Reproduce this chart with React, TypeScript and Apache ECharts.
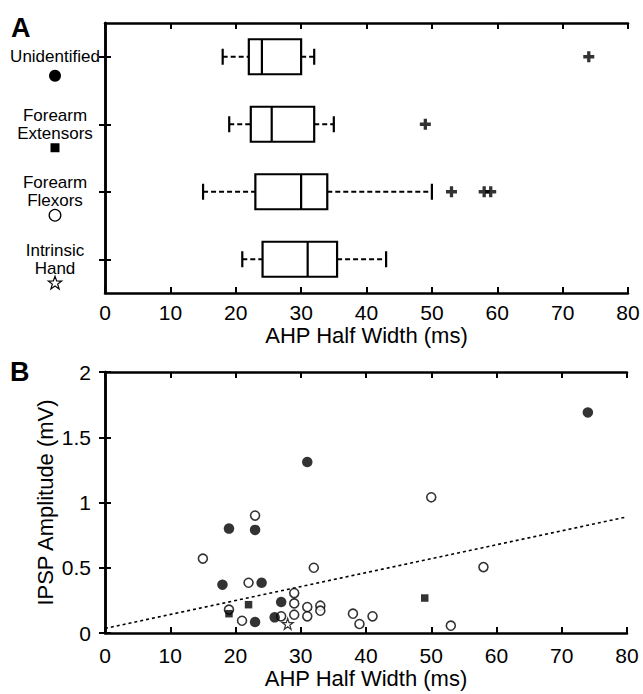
import React, { useEffect, useRef } from "react";
import * as echarts from "echarts";

// ---- Panel A: box plot data (AHP half width, ms) ----
const groups = ["Unidentified", "Forearm Extensors", "Forearm Flexors", "Intrinsic Hand"];
const groupMarkers = ["filledCircle", "filledSquare", "openCircle", "openStar"];
const whiskerLow = [18, 19, 15, 21];
const q1 = [22, 22.3, 23, 24.1];
const median = [24, 25.5, 30, 31];
const q3 = [30, 32, 34, 35.5];
const whiskerHigh = [32, 35, 50, 43];
const outlierGroup = [0, 1, 2, 2, 2];
const outlierValue = [74, 49, 53, 58, 59];

// ---- Panel B: scatter data ----
const unidentifiedX = [31, 19, 23, 18, 24, 27, 26, 23, 74];
const unidentifiedY = [1.31, 0.8, 0.79, 0.37, 0.385, 0.237, 0.12, 0.084, 1.69];
const extensorX = [19, 22, 49];
const extensorY = [0.148, 0.217, 0.268];
const flexorX = [23, 15, 32, 22, 29, 29, 29, 27, 31, 31, 33, 33, 19, 21, 38, 39, 41, 50, 58, 53];
const flexorY = [0.9, 0.57, 0.5, 0.385, 0.306, 0.227, 0.14, 0.128, 0.199, 0.128, 0.209, 0.171, 0.179, 0.094, 0.148, 0.069, 0.128, 1.04, 0.505, 0.056];
const handX = [28];
const handY = [0.07];
const trendX = [0, 80];
const trendY = [0.035, 0.89];

const xTicks = { min: 0, max: 80, interval: 10 };
const yTicks = { min: 0, max: 2, interval: 0.5 };

const FONT = "Liberation Sans, Arial, sans-serif";
const PLUS = "path://M3.5,0H6.5V3.5H10V6.5H6.5V10H3.5V6.5H0V3.5H3.5Z";
const STAR_PTS = (cx: number, cy: number, r: number) => {
  const pts: number[][] = [];
  for (let k = 0; k < 10; k++) {
    const a = -Math.PI / 2 + (k * Math.PI) / 5;
    const rr = k % 2 === 0 ? r : r * 0.4;
    pts.push([cx + rr * Math.cos(a), cy + rr * Math.sin(a)]);
  }
  return pts;
};
const STAR = "path://M50,0L61.8,35.3L99,35.3L68.9,57.3L80.4,92.7L50,70.8L19.6,92.7L31.1,57.3L1,35.3L38.2,35.3Z";

const axisLineStyle = { show: true, lineStyle: { color: "#000", width: 2.5 } };
const tickInside = { show: true, inside: true, length: 6, lineStyle: { color: "#000", width: 2 } };

export default function App() {
  const ref = useRef<HTMLDivElement>(null);
  useEffect(() => {
    if (!ref.current) return;
    const chart = echarts.init(ref.current, null, { renderer: "svg" });

    const xCommon = (gridIndex: number, position: string, labels: boolean, margin: number) => ({
      type: "value",
      gridIndex,
      position,
      ...xTicks,
      axisLine: { ...axisLineStyle, onZero: false },
      axisTick: tickInside,
      splitLine: { show: false },
      axisLabel: { show: labels, color: "#000", fontSize: 21, fontFamily: FONT, margin },
    });

    const option: any = {
      animation: false,
      backgroundColor: "#fff",
      grid: [
        { left: 105, right: 15, top: 23, height: 270 },
        { left: 105, right: 16, top: 372, height: 261 },
      ],
      xAxis: [
        {
          ...xCommon(0, "bottom", true, 9),
          name: "AHP Half Width (ms)",
          nameLocation: "middle",
          nameGap: 31,
          nameTextStyle: { color: "#000", fontSize: 22, fontFamily: FONT },
        },
        xCommon(0, "top", false, 9),
        {
          ...xCommon(1, "bottom", true, 12),
          name: "AHP Half Width (ms)",
          nameLocation: "middle",
          nameGap: 34,
          nameTextStyle: { color: "#000", fontSize: 22, fontFamily: FONT },
        },
        xCommon(1, "top", false, 12),
      ],
      yAxis: [
        {
          type: "category",
          gridIndex: 0,
          data: groups,
          inverse: true,
          position: "left",
          axisLine: axisLineStyle,
          axisTick: { ...tickInside, alignWithLabel: true },
          splitLine: { show: false },
          axisLabel: {
            align: "center",
            margin: 50,
            color: "#000",
            fontSize: 17,
            fontFamily: FONT,
            lineHeight: 18,
            formatter: (v: string) => v.split(" ").join("\n"),
          },
        },
        {
          type: "category",
          gridIndex: 0,
          data: groups,
          inverse: true,
          position: "right",
          axisLine: axisLineStyle,
          axisTick: { ...tickInside, alignWithLabel: true },
          axisLabel: { show: false },
          splitLine: { show: false },
        },
        {
          type: "value",
          gridIndex: 1,
          position: "left",
          ...yTicks,
          axisLine: axisLineStyle,
          axisTick: tickInside,
          splitLine: { show: false },
          axisLabel: { color: "#000", fontSize: 21, fontFamily: FONT, margin: 14 },
          name: "IPSP Amplitude (mV)",
          nameLocation: "middle",
          nameMoveOverlap: false,
          nameGap: 49,
          nameTextStyle: { color: "#000", fontSize: 22, fontFamily: FONT },
        },
        {
          type: "value",
          gridIndex: 1,
          position: "right",
          ...yTicks,
          axisLine: axisLineStyle,
          axisTick: tickInside,
          splitLine: { show: false },
          axisLabel: { show: false },
        },
      ],
      series: [
        {
          type: "custom",
          xAxisIndex: 0,
          yAxisIndex: 0,
          encode: { x: [1, 2, 3, 4, 5], y: 0 },
          data: groups.map((_, i) => [i, whiskerLow[i], q1[i], median[i], q3[i], whiskerHigh[i]]),
          renderItem: (params: any, api: any) => {
            const ci = api.value(0);
            const px = (v: number) => api.coord([v, ci]);
            const cy = px(api.value(3))[1];
            const xl = px(api.value(1))[0];
            const xq1 = px(api.value(2))[0];
            const xm = px(api.value(3))[0];
            const xq3 = px(api.value(4))[0];
            const xh = px(api.value(5))[0];
            const hb = 17.5;
            const hc = 8;
            const solid = { stroke: "#000", lineWidth: 2.2, fill: null };
            const dashed = { stroke: "#000", lineWidth: 2.2, lineDash: [5, 3] };
            return {
              type: "group",
              children: [
                { type: "line", shape: { x1: xl, y1: cy, x2: xq1, y2: cy }, style: dashed },
                { type: "line", shape: { x1: xq3, y1: cy, x2: xh, y2: cy }, style: dashed },
                { type: "line", shape: { x1: xl, y1: cy - hc, x2: xl, y2: cy + hc }, style: solid },
                { type: "line", shape: { x1: xh, y1: cy - hc, x2: xh, y2: cy + hc }, style: solid },
                { type: "rect", shape: { x: xq1, y: cy - hb, width: xq3 - xq1, height: 2 * hb }, style: { stroke: "#000", lineWidth: 2.2, fill: "#fff" } },
                { type: "line", shape: { x1: xm, y1: cy - hb, x2: xm, y2: cy + hb }, style: solid },
              ],
            };
          },
        },
        {
          type: "scatter",
          xAxisIndex: 0,
          yAxisIndex: 0,
          symbol: PLUS,
          symbolSize: 11,
          itemStyle: { color: "#000" },
          data: outlierValue.map((v, i) => [v, outlierGroup[i]]),
        },
        {
          type: "line",
          xAxisIndex: 2,
          yAxisIndex: 2,
          showSymbol: false,
          symbol: "none",
          lineStyle: { color: "#000", width: 1.6, type: [3, 3] },
          data: trendX.map((x, i) => [x, trendY[i]]),
          z: 1,
        },
        {
          type: "scatter",
          xAxisIndex: 2,
          yAxisIndex: 2,
          symbol: "circle",
          symbolSize: 9,
          itemStyle: { color: "#fff", borderColor: "#000", borderWidth: 1.6 },
          data: flexorX.map((x, i) => [x, flexorY[i]]),
        },
        {
          type: "scatter",
          xAxisIndex: 2,
          yAxisIndex: 2,
          symbol: "circle",
          symbolSize: 10.5,
          itemStyle: { color: "#000" },
          data: unidentifiedX.map((x, i) => [x, unidentifiedY[i]]),
        },
        {
          type: "scatter",
          xAxisIndex: 2,
          yAxisIndex: 2,
          symbol: "rect",
          symbolSize: 7.5,
          itemStyle: { color: "#000" },
          data: extensorX.map((x, i) => [x, extensorY[i]]),
        },
        {
          type: "scatter",
          xAxisIndex: 2,
          yAxisIndex: 2,
          symbol: STAR,
          symbolSize: 11,
          itemStyle: { color: "#fff", borderColor: "#000", borderWidth: 1.2 },
          data: handX.map((x, i) => [x, handY[i]]),
        },
      ],
    };
    chart.setOption(option);

    // legend markers under the category labels, placed from the category axis
    const mx = 55;
    const markerEls: any[] = groups.map((g, i) => {
      const ty = chart.convertToPixel({ yAxisIndex: 0 } as any, i) as unknown as number;
      const kind = groupMarkers[i];
      const words = g.split(" ").length;
      const y = ty + (words === 1 ? 19 : 23.5);
      if (kind === "filledCircle") return { type: "circle", shape: { cx: mx, cy: y, r: 6 }, style: { fill: "#000" } };
      if (kind === "filledSquare") return { type: "rect", shape: { x: mx - 4.5, y: y - 4.5, width: 9, height: 9 }, style: { fill: "#000" } };
      if (kind === "openCircle") return { type: "circle", shape: { cx: mx, cy: y, r: 5.8 }, style: { fill: "#fff", stroke: "#000", lineWidth: 1.3 } };
      return { type: "polygon", shape: { points: STAR_PTS(mx, y + 0.5, 7) }, style: { fill: "#fff", stroke: "#000", lineWidth: 1.2 } };
    });
    chart.setOption({
      graphic: [
        { type: "text", left: 11, top: 14, style: { text: "A", fontSize: 27, fontWeight: "bold", fontFamily: FONT, fill: "#000" } },
        { type: "text", left: 10, top: 358, style: { text: "B", fontSize: 27, fontWeight: "bold", fontFamily: FONT, fill: "#000" } },
        ...markerEls,
      ],
    });
    return () => chart.dispose();
  }, []);
  return <div ref={ref} style={{ width: 643, height: 694, position: "absolute", left: 0, top: 0 }} />;
}
